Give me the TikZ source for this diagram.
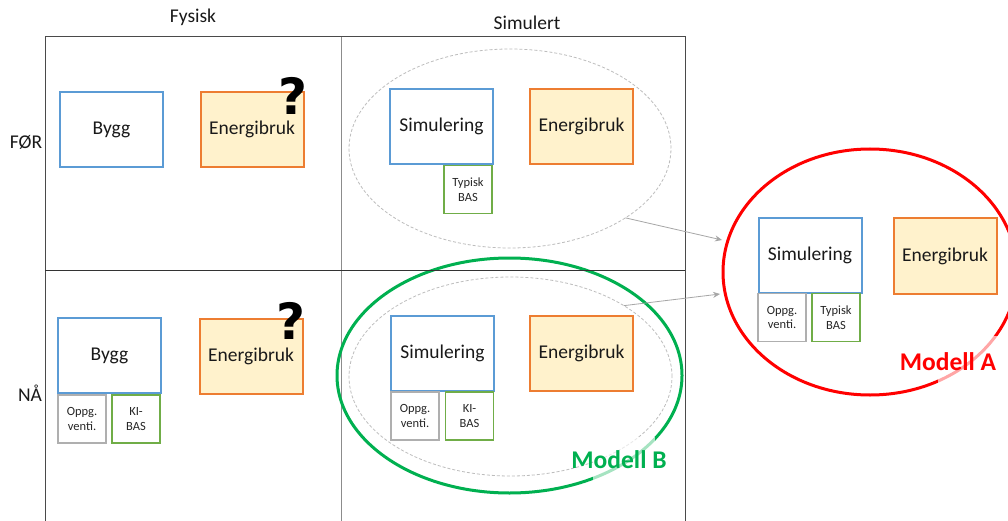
\documentclass[tikz,border=0pt]{standalone}
\usepackage{fontspec}
\setmainfont{Carlito}
\newfontfamily\queryfont{DejaVu Sans}
\usetikzlibrary{shapes.geometric,arrows.meta}
\definecolor{boxblue}{HTML}{5B9BD5}
\definecolor{boxorange}{HTML}{ED7D31}
\definecolor{boxfill}{HTML}{FFF2CC}
\definecolor{basgreen}{HTML}{70AD47}
\definecolor{ventgray}{HTML}{AFAFAF}
\definecolor{modelgreen}{HTML}{00B050}
\definecolor{modelred}{HTML}{FF0000}
\definecolor{gridgray}{HTML}{4A4A4A}
\definecolor{dashgray}{HTML}{BDBDBD}
\tikzset{
  bigtext/.style={font=\fontsize{19.5}{22}\selectfont, text=black!90},
  smalltext/.style={font=\fontsize{12.5}{14.5}\selectfont, align=center, text=black!85},
  simbox/.style={draw=boxblue, line width=2pt, fill=white, minimum width=103pt, minimum height=75pt, inner sep=0pt, bigtext},
  energybox/.style={draw=boxorange, line width=2pt, fill=boxfill, minimum width=103pt, minimum height=75pt, inner sep=0pt, bigtext},
  basbox/.style={draw=basgreen, line width=1.4pt, fill=white, minimum width=48pt, minimum height=48pt, inner sep=0pt, smalltext},
  ventbox/.style={draw=ventgray, line width=1.4pt, fill=white, minimum width=48pt, minimum height=48pt, inner sep=0pt, smalltext},
  scenario/.style={ellipse, draw=dashgray, dashed, dash pattern=on 3pt off 2pt, line width=0.8pt, inner sep=0pt, outer sep=0pt},
  modelring/.style={ellipse, line width=3pt, inner sep=0pt, outer sep=0pt},
  feed/.style={draw=black!35, line width=0.8pt, -{Stealth[length=7pt,width=6pt]}},
  query/.style={font=\queryfont\fontsize{50}{50}\bfseries\selectfont, text=black, inner sep=0pt},
  modellabel/.style={font=\fontsize{25.5}{28}\bfseries\selectfont, inner sep=0pt},
  veil/.style={fill=white, fill opacity=0.65, draw=none},
  axislabel/.style={bigtext},
  grid/.style={draw=gridgray, line width=1pt}
}
\begin{document}
\begin{tikzpicture}[x=1pt, y=-1pt]
\clip (0,0) rectangle (1008,521);
\fill[white] (0,0) rectangle (1008,521);

% quadrant frame
\draw[grid] (45,521) -- (45,37) -- (685,37) -- (685,521);
\draw[grid, draw=black!45] (341,37) -- (341,521);

% axis headings
\node[axislabel] (hfys) at (193,17) {Fysisk};
\node[axislabel] (hsim) at (527,23) {Simulert};
\node[axislabel] (hfor) at (26,142) {FØR};
\node[axislabel] (hnaa) at (30,393) {NÅ};

% physical, before
\node[simbox] (bygg1) at (111.5,129.5) {Bygg};
\node[energybox] (en1) at (252,129.5) {Energibruk};
\node[query] (q1) at (292.5,96) {?};

% physical, now
\node[simbox] (bygg2) at (109.5,355.5) {Bygg};
\node[ventbox] (vent2) at (82,419) {Oppg.\\venti.};
\node[basbox] (kibas2) at (136,419) {KI-\\BAS};
\node[energybox] (en2) at (251,356) {Energibruk};
\node[query] (q2) at (290.5,321) {?};

% simulated, before
\node[scenario, minimum width=322pt, minimum height=199pt] (scen1) at (510,148.5) {};
\node[simbox] (sim1) at (441.5,126.5) {Simulering};
\node[energybox] (en3) at (581.5,126.5) {Energibruk};
\node[basbox] (typ1) at (468,189.5) {Typisk\\BAS};

% simulated, now
\node[modelring, draw=modelgreen, minimum width=345pt, minimum height=235pt] (modB) at (509.5,375.5) {};
\draw[grid, draw=black!80] (45,270) -- (685,270);
\node[scenario, minimum width=323pt, minimum height=199pt] (scen2) at (510.5,376.5) {};
\node[simbox] (sim2) at (442.5,353.5) {Simulering};
\node[ventbox] (vent3) at (415,416) {Oppg.\\venti.};
\node[basbox] (kibas3) at (469.5,416) {KI-\\BAS};
\node[energybox] (en4) at (581.5,353.5) {Energibruk};
\fill[veil] (593,437) rectangle (655,484);
\node[modellabel, text=modelgreen] (labB) at (619,460) {Modell B};

% combined model
\node[modelring, draw=modelred, minimum width=294pt, minimum height=246pt] (modA) at (870,272) {};
\node[simbox] (sim3) at (810,255.5) {Simulering};
\node[ventbox] (vent4) at (782,317.5) {Oppg.\\venti.};
\node[basbox] (typ4) at (836,317.5) {Typisk\\BAS};
\node[energybox] (en5) at (945,256) {Energibruk};
\fill[veil] (938,336) rectangle (999,385);
\node[modellabel, text=modelred] (labA) at (948,362) {Modell A};

% feeds into the combined model
\coordinate (inA1) at (722,240);
\coordinate (inA2) at (720,294);
\draw[feed] (scen1.-31.6) -- (inA1);
\draw[feed] (scen2.32) -- (inA2);
\end{tikzpicture}
\end{document}
